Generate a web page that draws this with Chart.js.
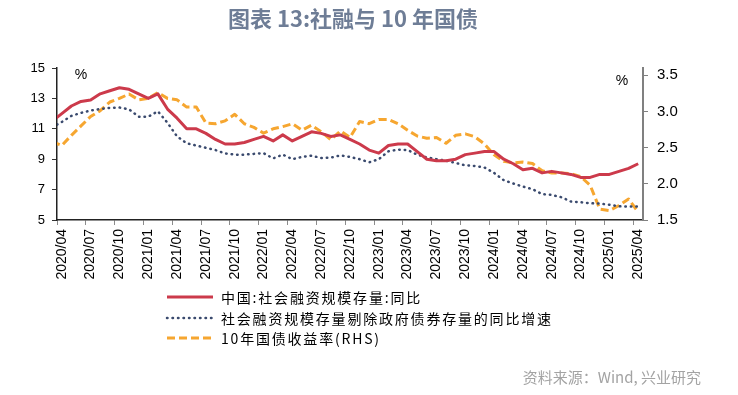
<!DOCTYPE html>
<html><head><meta charset="utf-8">
<script src="https://cdn.jsdelivr.net/npm/chart.js@4.4.1/dist/chart.umd.min.js"></script>
<style>html,body{margin:0;padding:0;background:#fff}#wrap{width:738px;height:395px;position:relative}</style>
</head><body><div id="wrap"><canvas id="c" width="738" height="395"></canvas></div>
<script>
// ---- data ----
const months = [
  '2020/03','2020/04','2020/05','2020/06','2020/07','2020/08','2020/09','2020/10','2020/11','2020/12',
  '2021/01','2021/02','2021/03','2021/04','2021/05','2021/06','2021/07','2021/08','2021/09','2021/10','2021/11','2021/12',
  '2022/01','2022/02','2022/03','2022/04','2022/05','2022/06','2022/07','2022/08','2022/09','2022/10','2022/11','2022/12',
  '2023/01','2023/02','2023/03','2023/04','2023/05','2023/06','2023/07','2023/08','2023/09','2023/10','2023/11','2023/12',
  '2024/01','2024/02','2024/03','2024/04','2024/05','2024/06','2024/07','2024/08','2024/09','2024/10','2024/11','2024/12',
  '2025/01','2025/02','2025/03','2025/04'
];
const tsfGrowth = [
  11.5,
  12.0, 12.5, 12.8, 12.9, 13.3, 13.5, 13.7, 13.6, 13.3,
  13.0, 13.3, 12.3, 11.7, 11.0, 11.0, 10.7, 10.3, 10.0, 10.0, 10.1, 10.3,
  10.5, 10.2, 10.6, 10.2, 10.5, 10.8, 10.7, 10.5, 10.6, 10.3, 10.0, 9.6,
  9.4, 9.9, 10.0, 10.0, 9.5, 9.0, 8.9, 8.9, 9.0, 9.3, 9.4, 9.5,
  9.5, 9.0, 8.7, 8.3, 8.4, 8.1, 8.2, 8.1, 8.0, 7.8, 7.8, 8.0,
  8.0, 8.2, 8.4, 8.7
];
const tsfExGovGrowth = [
  11.1,
  11.45, 11.85, 12.05, 12.2, 12.3, 12.38, 12.4, 12.28, 11.8,
  11.8, 12.15, 11.4, 10.5, 10.05, 9.9, 9.75, 9.6, 9.38, 9.3, 9.3, 9.35,
  9.4, 9.05, 9.3, 9.0, 9.15, 9.23, 9.08, 9.1, 9.25, 9.15, 9.0, 8.8,
  9.0, 9.52, 9.63, 9.6, 9.3, 9.12, 9.0, 8.9, 8.75, 8.6, 8.55, 8.45,
  8.1, 7.62, 7.4, 7.2, 7.03, 6.7, 6.65, 6.5, 6.21, 6.17, 6.1, 6.08,
  6.0, 5.9, 5.88, 5.88
];
const cgb10y = [
  2.58,
  2.53, 2.67, 2.80, 2.93, 3.01, 3.13, 3.18, 3.24, 3.16,
  3.18, 3.26, 3.18, 3.16, 3.06, 3.06, 2.84, 2.83, 2.87, 2.96, 2.83, 2.78,
  2.70, 2.76, 2.79, 2.83, 2.74, 2.81, 2.72, 2.61, 2.73, 2.64, 2.86, 2.83,
  2.89, 2.89, 2.83, 2.74, 2.66, 2.63, 2.64, 2.56, 2.67, 2.69, 2.65, 2.55,
  2.40, 2.31, 2.29, 2.30, 2.28, 2.18, 2.15, 2.15, 2.14, 2.10, 1.98, 1.65,
  1.63, 1.70, 1.79, 1.61
];
const leftTicks = [5, 7, 9, 11, 13, 15];
const rightTicks = [1.5, 2.0, 2.5, 3.0, 3.5];
const firstShown = '2020/04';
const seriesNames = ['中国:社会融资规模存量:同比', '社会融资规模存量剔除政府债券存量的同比增速', '10年国债收益率(RHS)'];
const titleText = '图表 13:社融与 10 年国债';
const sourceText = '资料来源：Wind, 兴业研究';

// ---- chart ----
const firstIdx = months.indexOf(firstShown);
const overlay = {
  id: 'overlay',
  afterDraw(chart) {
    const ctx = chart.ctx;
    ctx.save();
    ctx.textBaseline = 'middle';
    // title
    ctx.fillStyle = '#6e7d96';
    ctx.font = 'bold 22px "Noto Sans CJK SC"';
    ctx.textAlign = 'center';
    ctx.fillText(titleText, 353, 19);
    // unit marks
    ctx.fillStyle = '#000';
    ctx.font = '14px "Liberation Sans"';
    ctx.fillText('%', 81, 75);
    ctx.fillText('%', 622, 81);
    // legend
    const rows = [297, 318, 338];
    chart.data.datasets.forEach((ds, k) => {
      const y = rows[k];
      ctx.save();
      ctx.strokeStyle = ds.borderColor;
      ctx.lineWidth = ds.borderWidth;
      ctx.lineCap = ds.borderCapStyle || 'butt';
      ctx.setLineDash(ds.borderDash || []);
      ctx.beginPath();
      ctx.moveTo(167, y);
      ctx.lineTo(213, y);
      ctx.stroke();
      ctx.restore();
      ctx.fillStyle = '#000';
      ctx.font = '14px "Noto Sans CJK SC"';
      ctx.textAlign = 'left';
      try { ctx.letterSpacing = '1.8px'; } catch (e) {}
      ctx.fillText(ds.label, 221, y + 0.5);
      try { ctx.letterSpacing = '0px'; } catch (e) {}
    });
    // source
    ctx.fillStyle = '#a3a3a3';
    ctx.font = '15px "Noto Sans CJK SC"';
    ctx.textAlign = 'right';
    ctx.fillText(sourceText, 701, 377);
    ctx.restore();
  }
};

new Chart(document.getElementById('c'), {
  type: 'line',
  data: {
    labels: months,
    datasets: [
      { label: seriesNames[0], data: tsfGrowth, yAxisID: 'y', borderColor: '#CC3A4B', borderWidth: 3,
        pointRadius: 0, borderJoinStyle: 'round', tension: 0 },
      { label: seriesNames[1], data: tsfExGovGrowth, yAxisID: 'y', borderColor: '#3A4A6E', borderWidth: 2.5,
        borderDash: [0.5, 5], borderCapStyle: 'round', pointRadius: 0, tension: 0 },
      { label: seriesNames[2], data: cgb10y, yAxisID: 'y2', borderColor: '#F6A630', borderWidth: 3,
        borderDash: [8, 4], pointRadius: 0, borderJoinStyle: 'round', tension: 0 }
    ]
  },
  options: {
    responsive: false,
    animation: false,
    devicePixelRatio: 1,
    layout: { padding: { top: 68, left: 0, right: 0, bottom: 0 } },
    plugins: { legend: { display: false }, title: { display: false }, tooltip: { enabled: false } },
    scales: {
      x: {
        type: 'category',
        min: firstShown,
        offset: true,
        grid: {
          offset: true, drawOnChartArea: false, drawTicks: true, tickLength: 5,
          tickColor: c => (c.tick && (c.tick.value - firstIdx) % 3 === 0) ? '#8c8c8c' : 'rgba(0,0,0,0)'
        },
        border: { color: '#222', width: 1.5 },
        ticks: {
          autoSkip: false, minRotation: 90, maxRotation: 90, padding: 4, color: '#000',
          font: { family: 'Liberation Sans', size: 14 },
          callback: function (v) { return (v - firstIdx) % 3 === 0 ? this.getLabelForValue(v) : ''; }
        },
        afterFit(s) { s.height = 175; }
      },
      y: {
        position: 'left', min: 5, max: 15,
        afterBuildTicks(s) { s.ticks = leftTicks.map(v => ({ value: v })); },
        grid: { drawOnChartArea: false, drawTicks: true, tickLength: 5, tickColor: '#333' },
        border: { color: '#222', width: 1.5 },
        ticks: { padding: 7, color: '#000', font: { family: 'Liberation Sans', size: 13 } },
        afterFit(s) { s.width = 57; }
      },
      y2: {
        position: 'right', min: 1.5, max: 3.6,
        afterBuildTicks(s) { s.ticks = rightTicks.map(v => ({ value: v })); },
        grid: { drawOnChartArea: false, drawTicks: true, tickLength: 5, tickColor: '#808080' },
        border: { color: '#808080', width: 2 },
        ticks: { padding: 9, color: '#000', font: { family: 'Liberation Sans', size: 15 },
          callback: v => Number(v).toFixed(1) },
        afterFit(s) { s.width = 95; }
      }
    }
  },
  plugins: [overlay]
});
</script>
</body></html>
